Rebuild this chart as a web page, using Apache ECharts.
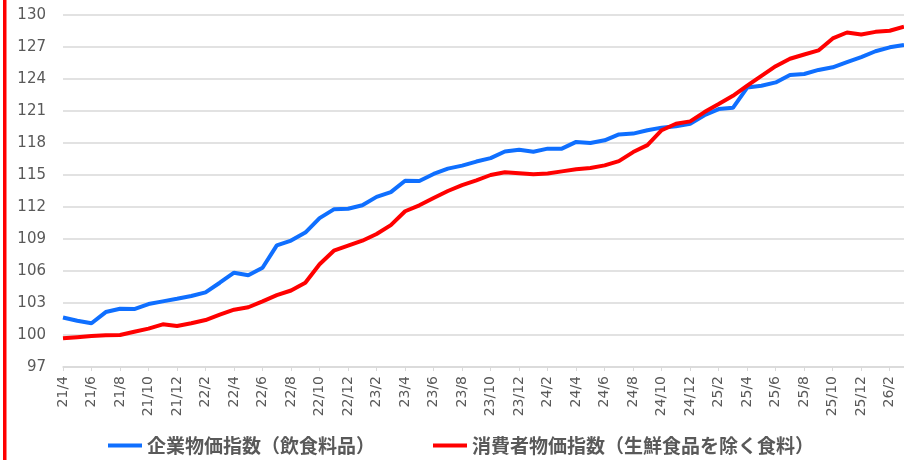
<!DOCTYPE html>
<html>
<head>
<meta charset="utf-8">
<script src="https://cdn.jsdelivr.net/npm/echarts@6/dist/echarts.min.js"></script>
<style>
  html, body { margin: 0; padding: 0; background: #fff; }
  #chart { width: 904px; height: 460px; }
</style>
</head>
<body>
<div id="chart"></div>
<script>
// months 21/4 .. 26/3
const months = (function() {
  const data = []
  let y = 21
  let m = 4
  for (let i = 0; i < 60; i++) {
    data.push(y + '/' + m)
    m++
    if (m > 12) { m = 1; y++ }
  }
  return data
}())

const yTicks = { min: 97, max: 130, interval: 3 }

const seriesNames = ['企業物価指数（飲食料品）', '消費者物価指数（生鮮食品を除く食料）']

const cgpiFood = [
  101.64, 101.33, 101.1, 102.15, 102.46, 102.43, 102.9, 103.15, 103.4, 103.66,
  104.0, 104.9, 105.84, 105.6, 106.3, 108.4, 108.85, 109.6, 110.96, 111.78,
  111.84, 112.16, 112.95, 113.4, 114.46, 114.43, 115.1, 115.6, 115.88, 116.26,
  116.58, 117.2, 117.37, 117.18, 117.47, 117.47, 118.1, 118.0, 118.25, 118.8,
  118.88, 119.2, 119.44, 119.56, 119.8, 120.6, 121.18, 121.3, 123.2, 123.37,
  123.68, 124.38, 124.47, 124.85, 125.1, 125.58, 126.05, 126.6, 126.97, 127.2
]

const cpiFood = [
  99.7, 99.8, 99.9, 99.97, 100.0, 100.3, 100.6, 101.0, 100.85, 101.1,
  101.4, 101.9, 102.37, 102.6, 103.16, 103.73, 104.17, 104.9, 106.63, 107.9,
  108.37, 108.84, 109.47, 110.3, 111.6, 112.16, 112.85, 113.5, 114.05, 114.5,
  115.0, 115.25, 115.16, 115.06, 115.15, 115.34, 115.53, 115.66, 115.9, 116.3,
  117.15, 117.8, 119.2, 119.8, 120.03, 120.9, 121.65, 122.42, 123.37, 124.3,
  125.2, 125.9, 126.3, 126.68, 127.8, 128.36, 128.17, 128.42, 128.52, 128.9
]

const chart = echarts.init(document.getElementById('chart'))
chart.setOption({
  backgroundColor: '#fff',
  animation: false,
  textStyle: {
    fontFamily: '"DejaVu Sans", "Noto Sans CJK JP", sans-serif'
  },
  graphic: [{
    type: 'rect',
    shape: { x: 3, y: 0, width: 3.5, height: 460 },
    style: { fill: '#ff0000' }
  }],
  grid: {
    left: 63,
    right: -3,
    top: 15,
    bottom: 93
  },
  legend: {
    left: 108,
    top: 436,
    padding: 0,
    icon: 'rect',
    itemWidth: 34,
    itemHeight: 4,
    itemGap: 58,
    textStyle: {
      fontFamily: '"Noto Sans CJK JP", sans-serif',
      fontSize: 19,
      fontWeight: 'bold',
      color: '#595959'
    },
    data: seriesNames
  },
  xAxis: {
    type: 'category',
    boundaryGap: false,
    data: months,
    axisLine: {
      lineStyle: { color: '#d9d9d9', width: 1.5 }
    },
    axisTick: {
      show: true,
      interval: 1,
      length: 4,
      lineStyle: { color: '#d9d9d9' }
    },
    axisLabel: {
      interval: 1,
      rotate: 90,
      margin: 9,
      fontSize: 14,
      color: '#595959'
    },
    splitLine: { show: false }
  },
  yAxis: {
    type: 'value',
    min: yTicks.min,
    max: yTicks.max,
    interval: yTicks.interval,
    axisLine: { show: false },
    axisTick: { show: false },
    axisLabel: {
      margin: 17,
      fontSize: 15,
      color: '#595959'
    },
    splitLine: {
      lineStyle: { color: '#d9d9d9', width: 1.5 }
    }
  },
  series: [
    {
      name: seriesNames[0],
      type: 'line',
      symbol: 'none',
      data: cgpiFood,
      lineStyle: { color: '#0f6fff', width: 4 },
      itemStyle: { color: '#0f6fff' }
    },
    {
      name: seriesNames[1],
      type: 'line',
      symbol: 'none',
      data: cpiFood,
      lineStyle: { color: '#ff0000', width: 4 },
      itemStyle: { color: '#ff0000' }
    }
  ]
})
</script>
</body>
</html>
